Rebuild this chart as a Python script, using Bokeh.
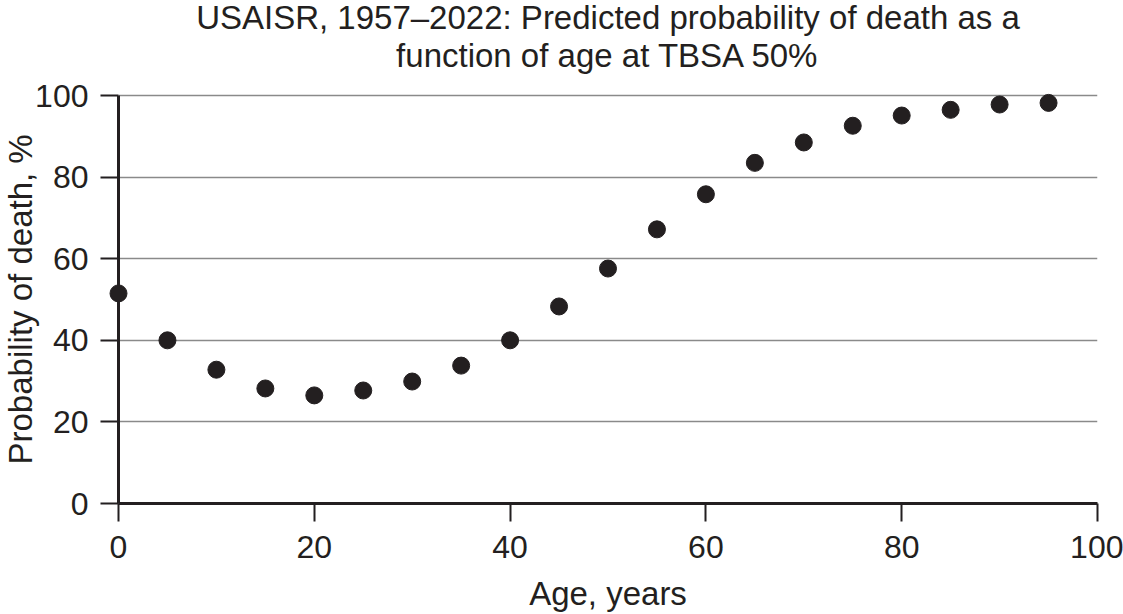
from bokeh.plotting import figure
from bokeh.models import Range1d, FixedTicker, Label, Title
from bokeh.embed import file_html
from bokeh.resources import INLINE

# predicted probability of death (%) by age, TBSA 50%
age = [0, 5, 10, 15, 20, 25, 30, 35, 40, 45, 50, 55, 60, 65, 70, 75, 80, 85, 90, 95]
prob = [51.5, 40.0, 32.8, 28.2, 26.5, 27.7, 29.9, 33.8, 40.0, 48.3,
        57.6, 67.2, 75.8, 83.5, 88.5, 92.6, 95.1, 96.5, 97.8, 98.2]

x_ticks = [0, 20, 40, 60, 80, 100]
y_ticks = [0, 20, 40, 60, 80, 100]

title_lines = ["USAISR, 1957\u20132022: Predicted probability of death as a",
               "function of age at TBSA 50%"]

FONT = "Liberation Sans"
INK = "#231f20"

# frame runs to the top of the canvas so the title can sit inside it;
# axis bounds keep the visible axis at 0..100
p = figure(width=1123, height=614, output_backend="svg", toolbar_location=None,
           x_range=Range1d(0, 100), y_range=Range1d(0, 123.3),
           min_border_left=118, min_border_right=26, min_border_top=0, min_border_bottom=111)
p.outline_line_color = None

mid_x = (x_ticks[0] + x_ticks[-1]) / 2
for line, off in zip(title_lines, [78, 40]):
    p.add_layout(Label(x=mid_x, y=y_ticks[-1], y_offset=off, text=line,
                       text_align="center", text_baseline="alphabetic",
                       text_font=FONT, text_font_size="33px", text_color=INK))

# y label as a side title so it centres on the 0..100 part of the axis
p.add_layout(Title(text="Probability of death, %", align="left", offset=39, standoff=-12,
                   text_font=FONT, text_font_size="33px", text_font_style="normal",
                   text_color=INK), "left")

# overlay level so the dot at age 0 is not clipped by the frame
p.scatter(age, prob, size=17, color=INK, line_color=INK, level="overlay")

p.xaxis.ticker = FixedTicker(ticks=x_ticks)
p.yaxis.ticker = FixedTicker(ticks=y_ticks)
p.yaxis.bounds = (y_ticks[0], y_ticks[-1])
for ax in (p.xaxis, p.yaxis):
    ax.axis_line_width = 3
    ax.axis_line_color = INK
    ax.major_tick_line_width = 2
    ax.major_tick_line_color = INK
    ax.major_tick_out = 18
    ax.major_tick_in = 0
    ax.minor_tick_line_color = None
    ax.major_label_text_font = FONT
    ax.major_label_text_font_size = "32px"
    ax.major_label_text_color = INK
    ax.axis_label_text_font = FONT
    ax.axis_label_text_font_size = "33px"
    ax.axis_label_text_font_style = "normal"
    ax.axis_label_text_color = INK

p.xaxis.axis_label = "Age, years"
p.xaxis.major_label_standoff = 14
p.yaxis.major_label_standoff = 12
p.xaxis.axis_label_standoff = 14

p.xgrid.grid_line_color = None
p.ygrid.ticker = FixedTicker(ticks=[20, 40, 60, 80, 100])
p.ygrid.grid_line_color = "#8a8a8a"
p.ygrid.grid_line_width = 1.5

open("out.html", "w").write(file_html(p, INLINE))
